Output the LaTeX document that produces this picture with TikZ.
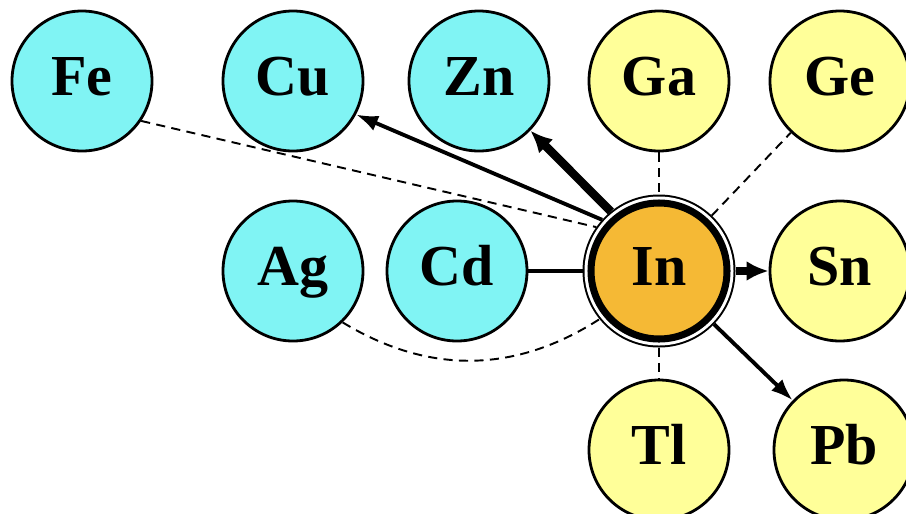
\documentclass[tikz,border=0pt]{standalone}
\usepackage{fontspec}
\setmainfont{Liberation Serif}
\usetikzlibrary{positioning, arrows.meta}

\definecolor{metalcyan}{RGB}{128,244,244}
\definecolor{metalyellow}{RGB}{255,255,153}
\definecolor{indiumorange}{RGB}{245,185,53}

\begin{document}
\begin{tikzpicture}[
  node distance=1.9cm and 2cm, on grid,
  atom/.style={draw, circle, line width=0.8pt, minimum size=1.4cm, inner sep=0pt, text height=0.4cm, text depth=0.12cm, font=\bfseries\fontsize{16.5}{16.5}\selectfont},
  cyanatom/.style={atom, fill=metalcyan},
  yellowatom/.style={atom, fill=metalyellow},
  hostatom/.style={atom, fill=indiumorange, line width=2pt, minimum size=1.36cm, outer sep=0.085cm,
    preaction={draw=black, line width=0.17cm}, preaction={draw=white, line width=0.13cm}},
  arrow/.style={-{Latex[length=0.22cm, width=0.16cm]}, line width=1.1pt},
  bigarrow/.style={-{Latex[length=0.22cm, width=0.2cm]}, line width=2pt},
  weak/.style={line width=0.55pt, dash pattern=on 2.6pt off 1.8pt}
]
\useasboundingbox (0,0) rectangle (9.06,5.13);

% Nodes
\node[hostatom] (in) at (6.59,2.42) {In};
\node[yellowatom, above=of in] (ga) {Ga};
\node[yellowatom, below=1.79cm of in] (tl) {Tl};
\node[yellowatom, right=1.81cm of in] (sn) {Sn};
\node[yellowatom, above=of sn] (ge) {Ge};
\node[yellowatom, below=1.79cm of sn, xshift=0.04cm] (pb) {Pb};
\node[cyanatom, left=2.02cm of in] (cd) {Cd};
\node[cyanatom, left=1.64cm of cd] (ag) {Ag};
\node[cyanatom, above=of ag] (cu) {Cu};
\node[cyanatom, left=2.11cm of cu] (fe) {Fe};
\node[cyanatom, right=1.86cm of cu] (zn) {Zn};

% Lines
\draw[weak] (fe.-34) -- (in.145);
\draw[weak] (ga) -- (in);
\draw[weak] (in) -- (ge);
\draw[weak] (in) -- (tl);
\draw[weak] (ag.-46) to[bend right=32] (in.-141);
\draw[line width=1.1pt] (cd) -- (in);
\draw[arrow] (in.138) -- (cu.-28);
\draw[bigarrow, line width=2.4pt] (in.129) -- (zn.-44);
\draw[bigarrow] (in) -- (sn);
\draw[arrow] (in) -- (pb);

\end{tikzpicture}
\end{document}
